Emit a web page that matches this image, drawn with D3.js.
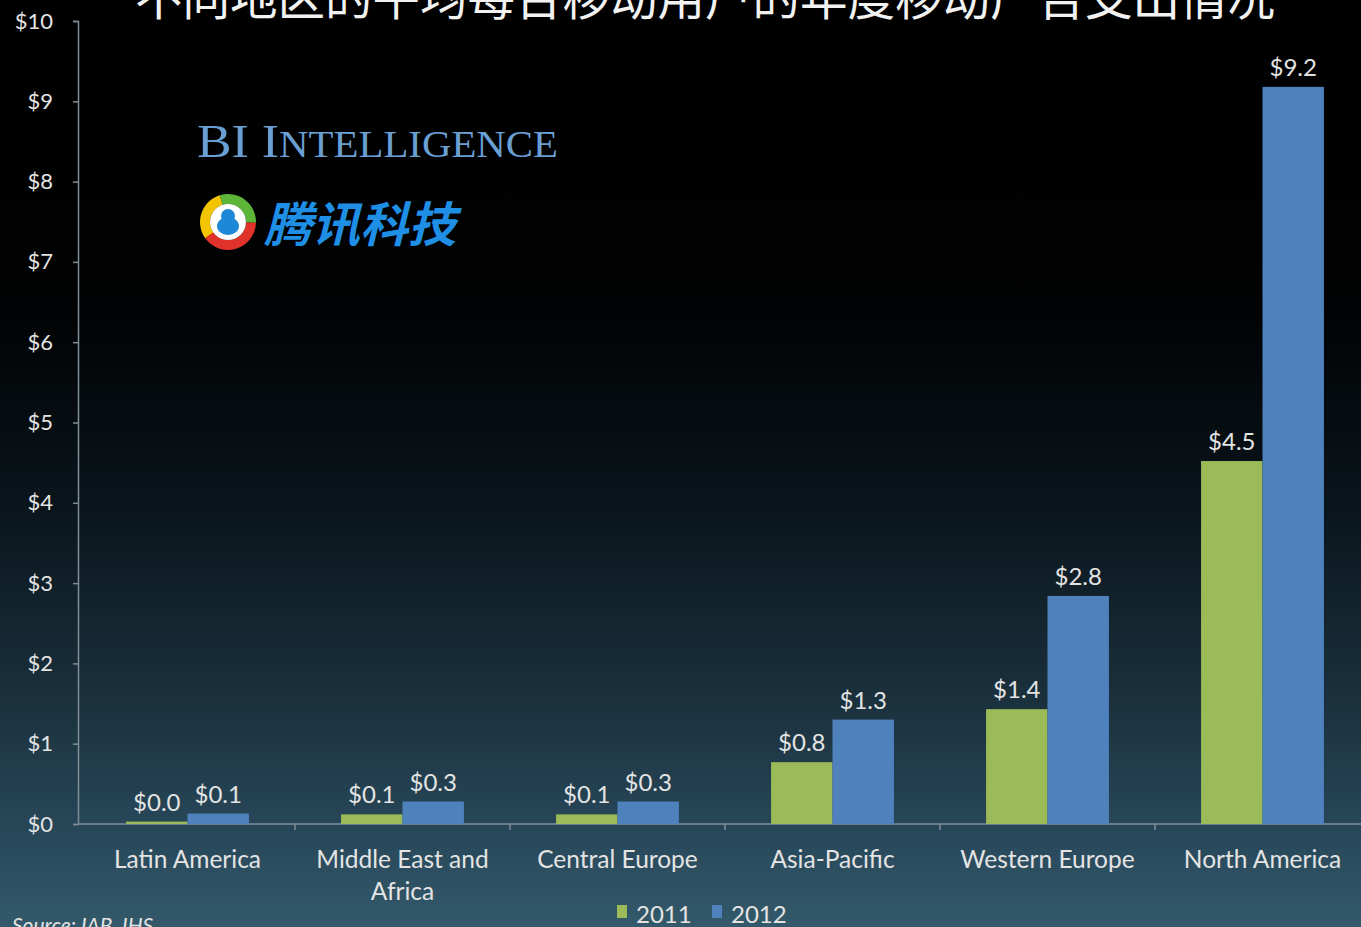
<!DOCTYPE html>
<html><head><meta charset="utf-8">
<script src="https://cdn.jsdelivr.net/npm/d3@7"></script>
<style>body{margin:0;background:#000;overflow:hidden}svg{display:block}</style>
</head><body>
<svg id="c" width="1361" height="927"></svg>
<script>
const title = "不同地区的平均每台移动用户的年度移动广告支出情况";
const categories = ["Latin America","Middle East and Africa","Central Europe","Asia-Pacific","Western Europe","North America"];
const series = ["2011","2012"];
const values2011 = [0.03,0.12,0.12,0.77,1.43,4.52];
const values2012 = [0.13,0.28,0.28,1.30,2.84,9.18];
const yTicks = [0,1,2,3,4,5,6,7,8,9,10];
const colors = ["#9bbb59","#4f81bd"];
const source = "Source: IAB, IHS";

(function(){
const svg = d3.select("#c");
const W = 1361, H = 927;
const defs = svg.append("defs");
const g1 = defs.append("linearGradient").attr("id","bg").attr("x1",0).attr("y1",0).attr("x2",0).attr("y2",1);
[[0,"#000000"],[0.33,"#010203"],[0.55,"#0a151c"],[0.75,"#1a303c"],[0.9,"#28485a"],[1,"#33596a"]]
  .forEach(([o,c])=>g1.append("stop").attr("offset",o).attr("stop-color",c));
svg.append("rect").attr("width",W).attr("height",H).attr("fill","url(#bg)");

const font = "Lato, 'Open Sans', sans-serif";
const pL = 78, pR = 1370, pT = 21, pB = 824;
const x = d3.scaleBand().domain(categories).range([pL+2,pR]).padding(0);
const xs = d3.scaleBand().domain(series).range([0,x.bandwidth()]).paddingInner(0).paddingOuter(0.75);
const y = d3.scaleLinear().domain([0,10]).range([pB,pT]);

// title
svg.append("text").attr("x",705).attr("y",15).attr("text-anchor","middle")
  .attr("font-family","'Noto Sans CJK SC', sans-serif").attr("font-size",47.5)
  .attr("fill","#f2f2f2").text(title);

// y axis
const ya = svg.append("g").attr("transform",`translate(${pL},0)`)
  .call(d3.axisLeft(y).tickValues(yTicks).tickFormat(d=>"$"+d).tickSize(5).tickPadding(20));
ya.select(".domain").attr("stroke","#7f8e96").attr("stroke-width",1.5);
ya.selectAll(".tick line").attr("stroke","#7f8e96").attr("stroke-width",1.5);
ya.selectAll(".tick text").attr("fill","#e4e4e4").attr("font-size",22).attr("font-family",font);

// x axis
const xa = svg.append("g");
xa.append("line").attr("x1",pL).attr("x2",W).attr("y1",pB).attr("y2",pB)
  .attr("stroke","#7f8e96").attr("stroke-width",1.5);
xa.selectAll("line.t").data(categories.slice(1)).join("line").attr("class","t")
  .attr("x1",d=>x(d)).attr("x2",d=>x(d)).attr("y1",pB).attr("y2",pB+6)
  .attr("stroke","#7f8e96").attr("stroke-width",1.5);

// bars
const data = categories.map((c,i)=>({c, vals:[values2011[i],values2012[i]]}));
const grp = svg.append("g").selectAll("g").data(data).join("g")
  .attr("transform",d=>`translate(${x(d.c)},0)`);
grp.selectAll("rect").data(d=>d.vals.map((v,j)=>({v,s:series[j],j}))).join("rect")
  .attr("x",d=>xs(d.s)).attr("width",xs.bandwidth())
  .attr("y",d=>y(d.v)).attr("height",d=>pB-y(d.v)).attr("fill",d=>colors[d.j]);
grp.selectAll("text").data(d=>d.vals.map((v,j)=>({v,s:series[j],j}))).join("text")
  .attr("x",d=>xs(d.s)+xs.bandwidth()/2).attr("y",d=>y(d.v)-11)
  .attr("text-anchor","middle").attr("fill","#e4e4e4").attr("font-size",24).attr("font-family",font)
  .text(d=>"$"+d3.format(".1f")(d.v));

// category labels
const cl = svg.append("g").selectAll("text").data(categories).join("text")
  .attr("x",d=>x(d)+x.bandwidth()/2).attr("y",868).attr("text-anchor","middle")
  .attr("fill","#e4e4e4").attr("font-size",24.5).attr("font-family",font);
cl.each(function(d){
  const t = d3.select(this);
  const words = d.split(" ");
  let line = [], lines = [];
  const tmp = t.append("tspan");
  words.forEach(w=>{
    const test = line.concat(w).join(" ");
    tmp.text(test);
    if (tmp.node().getComputedTextLength() > 200 && line.length) { lines.push(line.join(" ")); line=[w]; }
    else line.push(w);
  });
  lines.push(line.join(" "));
  tmp.remove();
  lines.forEach((l,i)=>t.append("tspan").attr("x",x(d)+x.bandwidth()/2).attr("dy",i?32:0).text(l));
});

// legend
const lg = svg.append("g");
series.forEach((s,i)=>{
  const lx = 617 + i*95;
  lg.append("rect").attr("x",lx).attr("y",905).attr("width",10).attr("height",13).attr("fill",colors[i]);
  lg.append("text").attr("x",lx+19).attr("y",923).attr("fill","#e4e4e4").attr("font-size",24)
    .attr("font-family",font).text(s);
});

// source
svg.append("text").attr("x",12).attr("y",933).attr("fill","#e4e4e4").attr("font-size",21)
  .attr("font-style","italic").attr("font-family",font).text(source);

// BI Intelligence logo
const bi = svg.append("text").attr("x",197).attr("y",157).attr("fill","#6a9fd4")
  .attr("font-family","'Liberation Serif', 'DejaVu Serif', serif").attr("textLength",361).attr("lengthAdjust","spacingAndGlyphs");
bi.append("tspan").attr("font-size",47).text("BI I");
bi.append("tspan").attr("font-size",37).text("NTELLIGENCE");

// Tencent logo
const lgx = 228, lgy = 222;
const arc = d3.arc().innerRadius(18).outerRadius(28);
const ring = svg.append("g").attr("transform",`translate(${lgx},${lgy})`);
[[-2.2,-0.3,"#f2c500"],[-0.3,1.6,"#5db53a"],[1.6,4.1,"#e0322a"]].forEach(([a,b,c])=>
  ring.append("path").attr("d",arc({startAngle:a,endAngle:b})).attr("fill",c));
ring.append("circle").attr("r",18).attr("fill","#ffffff");
ring.append("ellipse").attr("cx",0).attr("cy",4).attr("rx",11).attr("ry",9).attr("fill","#1e88d8");
ring.append("circle").attr("cx",0).attr("cy",-6).attr("r",7).attr("fill","#1e88d8");
svg.append("text").attr("transform","translate(264,242) skewX(-14)")
  .attr("font-family","'Noto Sans CJK SC', sans-serif").attr("font-weight",700)
  .attr("font-size",48).attr("fill","#1f8fe6").text("腾讯科技");
})();
</script>
</body></html>
